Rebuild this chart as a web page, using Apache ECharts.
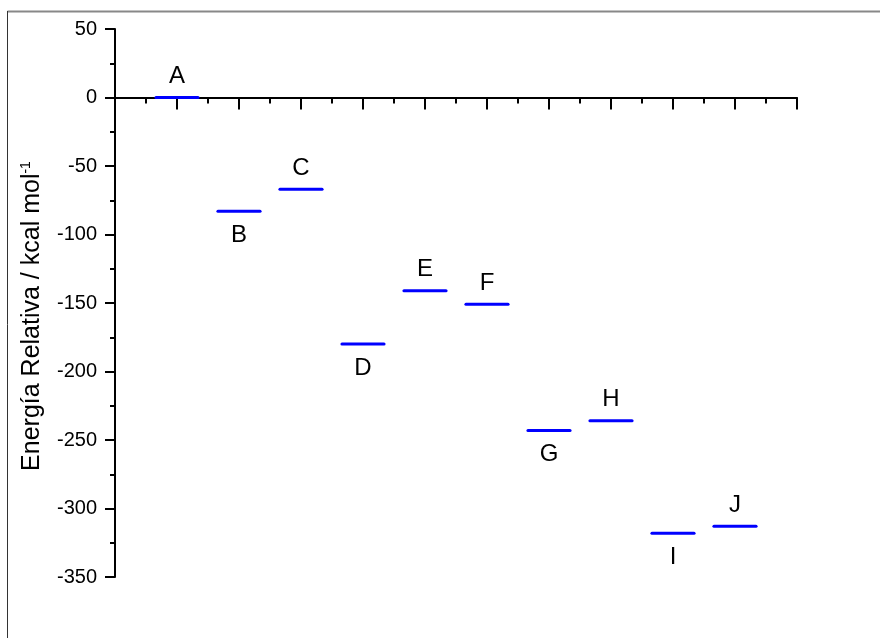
<!DOCTYPE html>
<html lang="es">
	<head>
		<meta charset="UTF-8" />
		<title>Energía relativa</title>
		<style>
			html, body { margin: 0; padding: 0; background: #fff; }
			#chart { width: 880px; height: 638px; }
		</style>
	</head>
	<body>
		<div id="chart"></div>
		<script src="https://cdn.jsdelivr.net/npm/echarts@6/dist/echarts.min.js"></script>
		<script>
			// niveles de energía (kcal/mol)
			const names = ["A", "B", "C", "D", "E", "F", "G", "H", "I", "J"];
			const positions = [1, 2, 3, 4, 5, 6, 7, 8, 9, 10];
			const energies = [0, -83, -67, -180, -141, -151, -243, -236, -318, -313];
			const labelSide = ["top", "bottom", "top", "bottom", "top", "top", "bottom", "top", "bottom", "top"];

			const font = "'Liberation Sans', Arial, sans-serif";
			const halfWidth = 0.34; // medio ancho de cada nivel, en unidades del eje x

			let chart = echarts.init(document.getElementById("chart"));
			let levels = positions.map(function (p, i) {
				return [p, energies[i], i];
			});

			let option = {
				animation: false,
				grid: { left: 115, right: 83, top: 29, bottom: 61, containLabel: false },
				graphic: [
					{ type: "line", shape: { x1: 7.5, y1: 11.5, x2: 880, y2: 11.5 }, style: { stroke: "#888", lineWidth: 2 } },
					{ type: "line", shape: { x1: 7.5, y1: 11, x2: 7.5, y2: 638 }, style: { stroke: "#333", lineWidth: 1 } },
				],
				xAxis: {
					type: "value",
					min: 0,
					max: 11,
					interval: 1,
					axisLine: { onZero: true, lineStyle: { color: "#000", width: 2 } },
					axisTick: { show: true, length: 12, lineStyle: { color: "#000", width: 2 } },
					minorTick: { show: true, splitNumber: 2, length: 6, lineStyle: { color: "#000", width: 2 } },
					axisLabel: { show: false },
					splitLine: { show: false },
				},
				yAxis: {
					type: "value",
					min: -350,
					max: 50,
					interval: 50,
					name: "{a|Energía Relativa / kcal mol}{s|-1}",
					nameLocation: "middle",
					nameGap: 70,
					nameRotate: 90,
					nameTextStyle: {
						padding: [0, 26, 0, 0],
						rich: {
							a: { fontFamily: font, fontSize: 25, color: "#000" },
							s: { fontFamily: font, fontSize: 14, color: "#000", verticalAlign: "top", padding: [0, 0, 12, 0] },
						},
					},
					axisLine: { show: true, lineStyle: { color: "#000", width: 2 } },
					axisTick: { show: true, length: 10, lineStyle: { color: "#000", width: 2 } },
					minorTick: { show: true, splitNumber: 2, length: 5, lineStyle: { color: "#000", width: 2 } },
					axisLabel: { fontFamily: font, fontSize: 20, color: "#000", margin: 18 },
					splitLine: { show: false },
				},
				series: [
					{
						type: "custom",
						data: levels,
						clip: false,
						renderItem: function (params, api) {
							let x = api.value(0);
							let y = api.value(1);
							let i = api.value(2);
							let p1 = api.coord([x - halfWidth, y]);
							let p2 = api.coord([x + halfWidth, y]);
							let top = labelSide[i] === "top";
							return {
								type: "group",
								children: [
									{
										type: "line",
										shape: { x1: p1[0], y1: p1[1], x2: p2[0], y2: p2[1] },
										style: { stroke: "#0000ff", lineWidth: 3, lineCap: "round" },
									},
									{
										type: "text",
										style: {
											text: names[i],
											x: (p1[0] + p2[0]) / 2,
											y: top ? p1[1] - 9 : p1[1] + 12,
											align: "center",
											verticalAlign: top ? "bottom" : "top",
											fontFamily: font,
											fontSize: 24,
											fill: "#000",
										},
									},
								],
							};
						},
					},
				],
			};
			chart.setOption(option);
		</script>
	</body>
</html>
